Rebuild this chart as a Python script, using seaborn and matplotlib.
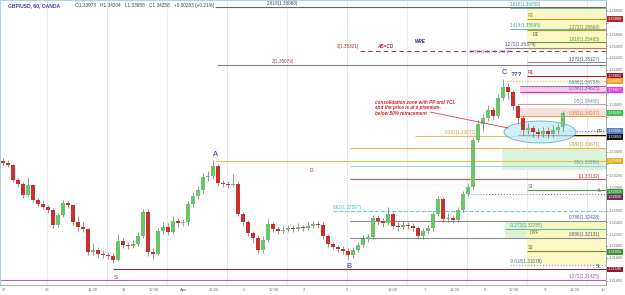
import matplotlib
matplotlib.use("Agg")
import matplotlib.pyplot as plt
import seaborn as sns
import numpy as np
from matplotlib.patches import Ellipse, Rectangle
from matplotlib.transforms import blended_transform_factory

# -----------------------------
# Data (GBP/USD 60 min)
# -----------------------------
first_open = 1.3345
closes = [1.3341, 1.3338, 1.3312, 1.3305, 1.3287, 1.3304, 1.3278, 1.3271, 1.3266, 1.3261,
          1.3235, 1.3252, 1.3273, 1.3269, 1.3240, 1.3232, 1.3229, 1.3189, 1.3193, 1.3186,
          1.3184, 1.3183, 1.3176, 1.3208, 1.3201, 1.3200, 1.3203, 1.3217, 1.3258, 1.3190,
          1.3186, 1.3225, 1.3232, 1.3223, 1.3242, 1.3239, 1.3240, 1.3271, 1.3285, 1.3295,
          1.3317, 1.3319, 1.3336, 1.3307, 1.3305, 1.3304, 1.3305, 1.3254, 1.3240, 1.3222,
          1.3213, 1.3193, 1.3210, 1.3237, 1.3229, 1.3225, 1.3227, 1.3230, 1.3229, 1.3232,
          1.3230, 1.3234, 1.3237, 1.3235, 1.3217, 1.3203, 1.3198, 1.3195, 1.3191, 1.3184,
          1.3193, 1.3201, 1.3212, 1.3215, 1.3247, 1.3242, 1.3239, 1.3254, 1.3234, 1.3232,
          1.3235, 1.3234, 1.3230, 1.3217, 1.3225, 1.3230, 1.3254, 1.3280, 1.3246, 1.3247,
          1.3244, 1.3261, 1.3288, 1.3300, 1.3380, 1.3407, 1.3418, 1.3431, 1.3421, 1.3452,
          1.3470, 1.3462, 1.3438, 1.3418, 1.3397, 1.3401, 1.3394, 1.3390, 1.3396, 1.3390,
          1.3397, 1.3402, 1.3426]
highs = [1.3349, 1.3346, 1.3340, 1.3316, 1.3308, 1.3318, 1.3306, 1.3282, 1.3276, 1.3270,
         1.3264, 1.3256, 1.3278, 1.3276, 1.3271, 1.3250, 1.3240, 1.3231, 1.3205, 1.3198,
         1.3192, 1.3190, 1.3188, 1.3220, 1.3214, 1.3206, 1.3210, 1.3224, 1.3262, 1.3262,
         1.3196, 1.3230, 1.3240, 1.3238, 1.3250, 1.3248, 1.3246, 1.3276, 1.3292, 1.3302,
         1.3324, 1.3328, 1.3346, 1.3340, 1.3312, 1.3310, 1.3322, 1.3310, 1.3258, 1.3244,
         1.3226, 1.3218, 1.3216, 1.3246, 1.3240, 1.3232, 1.3234, 1.3236, 1.3235, 1.3238,
         1.3236, 1.3240, 1.3243, 1.3242, 1.3240, 1.3220, 1.3206, 1.3202, 1.3200, 1.3196,
         1.3198, 1.3206, 1.3218, 1.3220, 1.3252, 1.3252, 1.3248, 1.3266, 1.3258, 1.3240,
         1.3242, 1.3240, 1.3238, 1.3234, 1.3230, 1.3236, 1.3260, 1.3284, 1.3283, 1.3256,
         1.3252, 1.3266, 1.3294, 1.3306, 1.3386, 1.3414, 1.3424, 1.3440, 1.3436, 1.3458,
         1.3484, 1.3478, 1.3466, 1.3442, 1.3422, 1.3410, 1.3406, 1.3400, 1.3402, 1.3403,
         1.3406, 1.3408, 1.3430]
lows = [1.3338, 1.3334, 1.3308, 1.3300, 1.3282, 1.3284, 1.3274, 1.3266, 1.3262, 1.3256,
        1.3230, 1.3232, 1.3249, 1.3264, 1.3236, 1.3226, 1.3224, 1.3184, 1.3184, 1.3180,
        1.3179, 1.3178, 1.3170, 1.3174, 1.3196, 1.3194, 1.3196, 1.3200, 1.3214, 1.3182,
        1.3178, 1.3184, 1.3220, 1.3218, 1.3220, 1.3232, 1.3234, 1.3236, 1.3266, 1.3280,
        1.3290, 1.3310, 1.3314, 1.3302, 1.3300, 1.3298, 1.3300, 1.3250, 1.3234, 1.3216,
        1.3204, 1.3186, 1.3188, 1.3206, 1.3224, 1.3220, 1.3222, 1.3223, 1.3224, 1.3226,
        1.3225, 1.3227, 1.3230, 1.3230, 1.3212, 1.3198, 1.3194, 1.3190, 1.3186, 1.3178,
        1.3180, 1.3190, 1.3198, 1.3206, 1.3212, 1.3236, 1.3232, 1.3236, 1.3228, 1.3225,
        1.3228, 1.3228, 1.3225, 1.3212, 1.3212, 1.3220, 1.3226, 1.3250, 1.3240, 1.3240,
        1.3238, 1.3240, 1.3258, 1.3284, 1.3296, 1.3376, 1.3396, 1.3412, 1.3414, 1.3418,
        1.3448, 1.3450, 1.3432, 1.3410, 1.3388, 1.3390, 1.3386, 1.3384, 1.3385, 1.3384,
        1.3386, 1.3390, 1.3396]

# bottom axis labels
date_labels = ["27", "28", "12:00", "31", "12:00", "Apr", "12:00", "2", "12:00", "3",
               "5", "12:00", "7", "12:00", "8", "12:00", "9", "12:00", "10"]

# price axis
price_ticks = np.arange(1.314, 1.3601, 0.002)

# fib / level lines: price and label text
level_prices = [1.36068, 1.36058, 1.35868, 1.35668, 1.35695, 1.35465, 1.35374, 1.35127,
                1.35079, 1.34892, 1.34807, 1.34728, 1.34625, 1.34408, 1.34207, 1.33955,
                1.33887, 1.33871, 1.33671, 1.33444, 1.33356, 1.33132, 1.32950, 1.32882,
                1.32597, 1.32428, 1.32285, 1.32131, 1.31911, 1.31678, 1.31596, 1.31425]
level_labels = ["2.618(1.36068)", "1.618(1.36058)", "R2", "1.272(1.35668)", "1.414(1.35695)",
                "1.618(1.35465)", "1.272(1.35374)", "1.272(1.35127)", "2(1.35079)", "R1",
                "", "0.886(1.34728)", "0.786(1.34625)", "0.5(1.34408)", "0.382(1.34207)", "",
                "PP", "0.382(1.33871)", "0.382(1.33671)", "", "0.5(1.33356)", "1(1.33132)",
                "S1", "YL", "0.62(1.32597)", "0.786(1.32428)", "-0.272(1.32285)",
                "0.886(1.32131)", "S2", "-0.618(1.31678)", "SL", "1.272(1.31425)"]

# price tags on the right axis
tag_prices = [1.35868, 1.34892, 1.34805, 1.34657, 1.34258, 1.33955, 1.33850, 1.33444,
              1.32919, 1.32830, 1.31894, 1.31596]
tag_colors = ["#b3262e", "#a3172a", "#f0a02a", "#e040e8", "#3fbf4f", "#4f7fbf", "#151515",
              "#e6b422", "#3a9a3a", "#6e2f5a", "#3f8f36", "#8b1d33"]

# -----------------------------
# Figure
# -----------------------------
sns.set_theme(style="white")
plt.rcParams["font.family"] = ["Liberation Sans", "DejaVu Sans"]

W, H = 625, 295
fig = plt.figure(figsize=(W / 100, H / 100), dpi=100)
ax = fig.add_axes([0, 10 / H, 606 / W, 285 / H])

PX0, PXS = 3, 5          # pixel of candle 0, pixels per candle
def px(p):
    return (p - PX0) / PXS

def py(y):
    return 1.314 + (281 - y) / 5870.0

ax.set_xlim(px(0), px(606))
ax.set_ylim(py(285), py(0))
XR = px(606)

# vertical grid
for g in [47, 107, 167, 227, 287, 347, 407, 467, 527, 587]:
    ax.axvline(px(g), color="#e8e8e8", lw=0.6, zorder=0)

# shaded zones
zones = [(527, 1.36068, 1.35335, "#fbf7c0"),
         (520, 1.34722, 1.34586, "#f7c6e6"),
         (518, 1.34347, 1.34194, "#f6dcdc"),
         (502, 1.33666, 1.33291, "#d7f3d5"),
         (505, 1.32405, 1.32115, "#d9f3cf"),
         (527, 1.32405, 1.31673, "#fbf8bf")]
for x0, top, bot, col in zones:
    ax.add_patch(Rectangle((px(x0), bot), XR - px(x0), top - bot,
                           facecolor=col, edgecolor="none", zorder=1, alpha=0.9))

# level line styles: start pixel, colour, linestyle, label pixel x, label align
styles = [(215, "#666666", "-", 267, "left"), (510, "#6fb7b0", "-", 510, "left"),
          (527, "#a8a020", "-", 528, "left"), (527, "#a8a020", "-", 600, "right"),
          (510, "#6fb7b0", "-", 510, "left"), (527, "#6a9a3a", "-", 600, "right"),
          (505, "#8a8a8a", "-", 505, "left"), (527, "#8a8a8a", "-", 600, "right"),
          (217, "#8a7a8a", "-", 272, "left"), (527, "#b02030", "-", 528, "left"),
          (507, "#f0b040", ":", 600, "right"), (520, "#8a7aa0", "-", 600, "right"),
          (520, "#c040c0", "-", 600, "right"), (518, "#c8a0a0", "-", 600, "right"),
          (520, "#f0a040", "-", 600, "right"), (520, "#4f7fbf", ":", 600, "right"),
          (518, "#111111", "-", 603, "right"), (415, "#e8c060", "-", 445, "left"),
          (350, "#f0b050", "-", 600, "right"), (216, "#e6c04a", "-", 600, "right"),
          (350, "#a8cce8", "-", 600, "right"), (350, "#e05050", "-", 600, "right"),
          (527, "#4a9a4a", "-", 528, "left"), (468, "#888888", ":", 603, "right"),
          (333, "#60d0d8", "--", 333, "left"), (350, "#8a8a8a", "-", 600, "right"),
          (505, "#6fb7b0", "-", 510, "left"), (350, "#8a8a8a", "-", 600, "right"),
          (527, "#7a8a2a", "-", 528, "left"), (510, "#999999", ":", 510, "left"),
          (113, "#7a2a3a", "-", 602, "right"), (0, "#b060c8", "-", 600, "right")]
label_colors = {"#666666": "#444444", "#6fb7b0": "#4aa0a0", "#a8a020": "#8a8a10",
                "#6a9a3a": "#5a9a2a", "#8a8a8a": "#4a5a9a", "#8a7a8a": "#9a4a6a",
                "#b02030": "#9a2030", "#f0b040": "#c08020", "#8a7aa0": "#4a7aa0",
                "#c040c0": "#9a40b0", "#c8a0a0": "#4aa0b0", "#f0a040": "#d08a20",
                "#4f7fbf": "#4f7fbf", "#111111": "#555555", "#e8c060": "#c8a040",
                "#f0b050": "#d0902a", "#e6c04a": "#c0a030", "#a8cce8": "#4aa0b0",
                "#e05050": "#c03030", "#4a9a4a": "#4a8a4a", "#888888": "#666666",
                "#60d0d8": "#40c0c8", "#7a8a2a": "#6a7a2a", "#999999": "#4a6a9a",
                "#7a2a3a": "#444444", "#b060c8": "#9a50b0"}

for price, text, (x0, col, ls, lx, ha) in zip(level_prices, level_labels, styles):
    ax.hlines(price, px(x0), XR, colors=col, linestyles=ls, lw=0.8, zorder=2)
    if text:
        ax.text(px(lx), price + 0.00012, text, fontsize=3.3, color=label_colors[col],
                ha=ha, va="bottom", zorder=6)

# AB=CD dashed line
ax.hlines(py(51), px(360), XR, colors="#c0304a", linestyles=(0, (4, 3)), lw=0.8, zorder=2)
ax.text(px(337), py(49), "2(1.35321)", fontsize=3.3, color="#b03040", va="bottom")
ax.text(px(377), py(49), "AB=CD", fontsize=3.3, color="#b03040", va="bottom",
        style="italic", fontweight="bold")
ax.text(px(415), py(44), "WRE", fontsize=3.3, color="#2a2a6a", va="bottom",
        style="italic", fontweight="bold")
ax.text(px(470), py(54), "378(15)=117.0  200 W", fontsize=3.0, color="#a040c0",
        va="bottom", style="italic")
ax.text(px(533), py(34), "DE", fontsize=3.3, color="#5a5a20", va="center", style="italic")
ax.text(px(530), py(232), "DRF", fontsize=3.3, color="#6a7a20", va="center", style="italic")
ax.text(px(310), py(170), "ID", fontsize=3.3, color="#3a3a8a", va="center")

# candles
opens = [first_open] + closes[:-1]
xs = np.arange(len(closes))
up = np.array(closes) >= np.array(opens)
body_lo = np.minimum(opens, closes)
body_h = np.maximum(np.abs(np.array(closes) - np.array(opens)), 0.00006)
ax.vlines(xs, lows, highs, colors="#6e6e6e", lw=0.5, zorder=3)
ax.bar(xs, body_h, bottom=body_lo, width=0.62,
       color=np.where(up, "#6cc46c", "#c8322e"), edgecolor="none", zorder=4)

# consolidation ellipse
ax.add_patch(Ellipse((px(540), py(132)), px(576) - px(504), py(121) - py(143),
                     facecolor="#bfeaf5", edgecolor="#4a90c8", lw=0.6, alpha=0.75, zorder=2))

# swing labels
for lab, x0, y0 in [("A", 216, 155), ("B", 349, 267), ("C", 504, 72)]:
    ax.text(px(x0), py(y0), lab, fontsize=5.5, color="#2a3a8a", ha="center", va="center")
ax.text(px(516), py(74), "???", fontsize=4.5, color="#2a3a8a", ha="center", va="center",
        fontweight="bold")
ax.text(px(116), py(277), "S", fontsize=4.5, color="#c02020", ha="center", va="center")

# red note and pointer
ax.text(px(375), py(108),
        "consolidation zone with PP and YCL\nand the price is at a premium-\nbelow 50% retracement",
        fontsize=3.3, color="#d0202a", fontweight="bold", style="italic",
        va="center", ha="left", linespacing=1.1, zorder=7)
ax.plot([px(430), px(508)], [py(112), py(128)], color="#d04050", lw=0.6, zorder=6)

# axes look: hide price labels that sit under a tag, as the chart does
ax.yaxis.tick_right()
ax.set_yticks(price_ticks)
ax.set_yticklabels(["" if min(abs(t - p) for p in tag_prices) < 0.0008 else f"{t:.5f}"
                    for t in price_ticks], fontsize=2.9, color="#555555")
tick_px = [4, 47, 93, 124, 154, 183, 214, 244, 274, 304, 347, 393, 425, 455, 485, 514,
           545, 575, 603]
ax.set_xticks([px(p) for p in tick_px])
ax.set_xticklabels(date_labels, fontsize=3.0, color="#555555")
for lbl in ax.get_xticklabels():
    if lbl.get_text() == "Apr":
        lbl.set_fontweight("bold")
        lbl.set_color("#3a3a8a")
ax.tick_params(axis="both", length=1.2, width=0.4, pad=1.0, colors="#777777")
for side in ["top", "left"]:
    ax.spines[side].set_color("#a8d4ee")
    ax.spines[side].set_linewidth(0.8)
for side in ["right", "bottom"]:
    ax.spines[side].set_color("#888888")
    ax.spines[side].set_linewidth(0.5)

# right-axis price tags
trans = blended_transform_factory(ax.transAxes, ax.transData)
for price, col in zip(tag_prices, tag_colors):
    ax.text(1.003, price, f"{price:.5f}", transform=trans, fontsize=2.8, color="white",
            ha="left", va="center", zorder=8, clip_on=False,
            bbox=dict(boxstyle="square,pad=0.2", facecolor=col, edgecolor="none"))

# header
fig.text(8 / W, 1 - 6 / H, "GBP/USD, 60, OANDA", fontsize=3.6, color="#4a3aa0",
         fontweight="bold", va="center")
fig.text(75 / W, 1 - 6 / H, "O1.33973   H1.34304   L1.33958   C1.34258   +0.00283 (+0.21%)",
         fontsize=3.4, color="#444444", va="center")

fig.savefig("out.png", dpi=100)
